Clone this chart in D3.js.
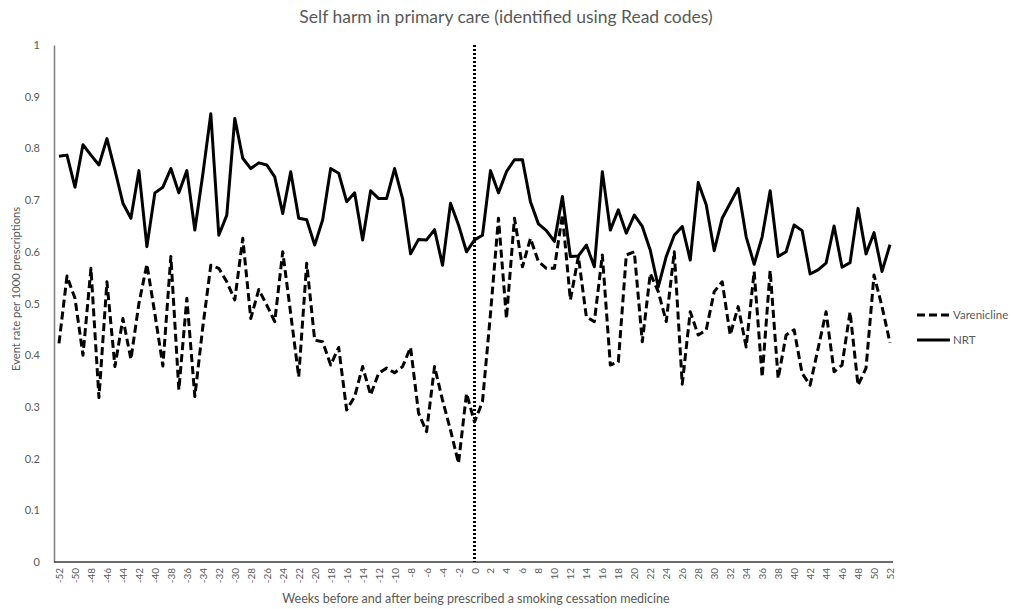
<!DOCTYPE html>
<html><head><meta charset="utf-8">
<script src="https://cdn.jsdelivr.net/npm/d3@7"></script>
<style>body{margin:0;background:#fff;} text{font-family:Lato,"Open Sans",sans-serif;}</style>
</head><body>
<svg id="c" width="1010" height="609"></svg>
<script>
const weeks = d3.range(-52, 53);
const varenicline = [
0.423,0.553,0.51,0.400,0.568,0.318,0.542,0.378,0.471,0.392,0.50,0.576,0.48,0.379,0.591,0.333,0.510,0.320,0.455,0.574,0.568,0.542,0.507,0.626,0.471,0.527,
0.497,0.465,0.600,0.48,0.358,0.578,0.429,0.426,0.381,0.415,0.294,0.320,0.378,0.323,0.365,0.375,0.366,0.378,0.415,0.288,0.252,0.378,0.313,0.255,0.191,0.326,
0.271,
0.31,0.48,0.665,0.471,0.665,0.571,0.626,0.581,0.568,0.568,0.672,0.507,0.591,0.474,0.465,0.594,0.381,0.387,0.594,0.600,0.426,0.558,0.523,0.465,0.600,0.344,
0.484,0.439,0.449,0.523,0.542,0.439,0.494,0.416,0.562,0.358,0.564,0.355,0.439,0.449,0.365,0.342,0.413,0.484,0.368,0.381,0.484,0.342,0.375,0.555,0.494,0.424
];
const nrt = [
0.785,0.787,0.725,0.807,0.787,0.768,0.819,0.758,0.694,0.665,0.757,0.610,0.714,0.725,0.761,0.714,0.757,0.642,0.75,0.867,0.632,0.671,0.858,0.781,0.761,0.772,
0.768,0.745,0.674,0.755,0.665,0.662,0.613,0.662,0.761,0.752,0.697,0.714,0.623,0.718,0.703,0.703,0.761,0.703,0.596,0.624,0.623,0.643,0.574,0.694,0.652,0.600,
0.623,
0.632,0.757,0.714,0.755,0.778,0.778,0.697,0.654,0.641,0.620,0.707,0.591,0.592,0.613,0.571,0.755,0.642,0.681,0.636,0.671,0.649,0.603,0.532,0.591,0.632,0.649,
0.584,0.734,0.691,0.602,0.665,0.694,0.723,0.629,0.576,0.629,0.718,0.591,0.600,0.652,0.641,0.557,0.565,0.578,0.650,0.570,0.579,0.684,0.596,0.637,0.562,0.614
];
const yTicks = [0,0.1,0.2,0.3,0.4,0.5,0.6,0.7,0.8,0.9,1];
const xTicks = d3.range(-52, 53, 2);
const seriesNames = ["Varenicline","NRT"];
const title = "Self harm in primary care (identified using Read codes)";
const xTitle = "Weeks before and after being prescribed a smoking cessation medicine";
const yTitle = "Event rate per 1000 prescriptions";

const svg = d3.select("#c");
const grey = "#595959";
const x = d3.scaleLinear().domain([-52,52]).range([59,890]);
const y = d3.scaleLinear().domain([0,1]).range([562,45]);

svg.append("text").attr("x",506).attr("y",23).attr("text-anchor","middle")
  .attr("font-size",17.5).attr("fill",grey).text(title);

// axes
const yAxis = svg.append("g").attr("transform","translate(54,0)")
  .call(d3.axisLeft(y).tickValues(yTicks).tickSize(0).tickPadding(14).tickFormat(d=>String(d)));
yAxis.select(".domain").attr("stroke","#7f7f7f").attr("stroke-width",1.5);
yAxis.selectAll("text").attr("font-size",11).attr("fill",grey).style("font-family","Lato");

const xAxis = svg.append("g").attr("transform","translate(0,562)")
  .call(d3.axisBottom(x).tickValues(xTicks).tickSize(0).tickFormat(d=>String(d)));
xAxis.select(".domain").attr("d","M54,0H893").attr("stroke","#3a3a3a").attr("stroke-width",1.5);
xAxis.selectAll("text").attr("font-size",10).attr("fill",grey).style("font-family","Lato")
  .attr("transform","rotate(-90)").attr("text-anchor","end").attr("x",-6).attr("y",0).attr("dy","0.35em");

svg.append("text").attr("x",476).attr("y",603).attr("text-anchor","middle")
  .attr("font-size",12.5).attr("fill",grey).text(xTitle);
svg.append("text").attr("transform","translate(20,289) rotate(-90)").attr("text-anchor","middle")
  .attr("font-size",11.2).attr("fill",grey).text(yTitle);

// vertical dotted line at week 0
svg.append("line").attr("x1",x(0)).attr("x2",x(0)).attr("y1",y(1)).attr("y2",y(0))
  .attr("stroke","#000").attr("stroke-width",3).attr("stroke-dasharray","2,2");

const line = d3.line().x((d,i)=>x(weeks[i])).y(d=>y(d));
svg.append("path").datum(varenicline).attr("d",line).attr("fill","none")
  .attr("stroke","#000").attr("stroke-width",3).attr("stroke-dasharray","8,4").attr("stroke-linejoin","round");
svg.append("path").datum(nrt).attr("d",line).attr("fill","none")
  .attr("stroke","#000").attr("stroke-width",3).attr("stroke-linejoin","round");

// legend
const lg = svg.append("g");
const items = [{name:seriesNames[0],dash:"8,4",y:315},{name:seriesNames[1],dash:null,y:340}];
items.forEach(it=>{
  lg.append("line").attr("x1",917).attr("x2",950).attr("y1",it.y).attr("y2",it.y)
    .attr("stroke","#000").attr("stroke-width",3).attr("stroke-dasharray",it.dash);
  lg.append("text").attr("x",953).attr("y",it.y).attr("dy","0.35em").attr("font-size",11.5)
    .attr("fill",grey).text(it.name);
});
</script>
</body></html>
